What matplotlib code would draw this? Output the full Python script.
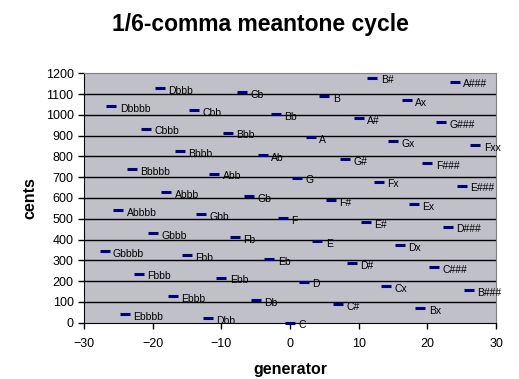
import matplotlib.pyplot as plt

# generator index, pitch in cents, note name
gens = [-27, -26, -25, -24, -23, -22, -21, -20, -19, -18, -17, -16, -15, -14,
        -13, -12, -11, -10, -9, -8, -7, -6, -5, -4, -3, -2, -1, 0,
        1, 2, 3, 4, 5, 6, 7, 8, 9, 10, 11, 12, 13, 14,
        15, 16, 17, 18, 19, 20, 21, 22, 23, 24, 25, 26, 27]
cents = [344.0, 1042.4, 540.7, 39.1, 737.5, 235.9, 934.2, 432.6, 1131.0, 629.3,
         127.7, 826.1, 324.4, 1022.8, 521.2, 19.6, 717.9, 216.3, 914.7, 413.0,
         1111.4, 609.8, 108.2, 806.5, 304.9, 1003.3, 501.6, 0.0,
         698.4, 196.7, 895.1, 393.5, 1091.9, 590.2, 88.6, 787.0, 285.3, 983.7,
         482.1, 1180.5, 678.8, 177.2, 875.6, 373.9, 1072.3, 570.7, 69.0, 767.4,
         265.8, 964.2, 462.5, 1160.9, 659.3, 157.6, 856.0]
names = ['Gbbbb', 'Dbbbb', 'Abbbb', 'Ebbbb', 'Bbbbb', 'Fbbb', 'Cbbb', 'Gbbb',
         'Dbbb', 'Abbb', 'Ebbb', 'Bbbb', 'Fbb', 'Cbb', 'Gbb', 'Dbb', 'Abb',
         'Ebb', 'Bbb', 'Fb', 'Cb', 'Gb', 'Db', 'Ab', 'Eb', 'Bb', 'F', 'C',
         'G', 'D', 'A', 'E', 'B', 'F#', 'C#', 'G#', 'D#', 'A#', 'E#', 'B#',
         'Fx', 'Cx', 'Gx', 'Dx', 'Ax', 'Ex', 'Bx', 'F###', 'C###', 'G###',
         'D###', 'A###', 'E###', 'B###', 'Fxx']

plt.rcParams['font.family'] = ['Liberation Sans', 'DejaVu Sans']

fig = plt.figure(figsize=(5.19, 3.79), dpi=100)
fig.patch.set_facecolor('white')
ax = fig.add_axes([84/519, 1-322.5/379, 412/519, 249/379])
ax.set_facecolor('#c0c0c8')

for y in range(100, 1200, 100):
    ax.axhline(y, color='black', lw=1, zorder=1)

ax.plot(gens, cents, ls='none', marker='_', ms=7, mew=2.2,
        color='#000080', zorder=3, clip_on=False)
for g, c, n in zip(gens, cents, names):
    ax.annotate(n, (g, c), xytext=(6, -2), textcoords='offset points',
                fontsize=7.5, va='center', ha='left', zorder=4,
                annotation_clip=False)

ax.set_xlim(-30, 30)
ax.set_ylim(0, 1200)
ax.set_xticks(range(-30, 31, 10))
ax.set_yticks(range(0, 1201, 100))
ax.tick_params(labelsize=9, length=4, width=1, color='black')
ax.tick_params(axis='x', pad=7)
for s in ['top', 'right']:
    ax.spines[s].set_color('#808080')
for s in ['left', 'bottom']:
    ax.spines[s].set_color('black')

ax.set_xlabel('generator', fontsize=11.5, fontweight='bold', labelpad=9)
ax.set_ylabel('cents', fontsize=11.5, fontweight='bold', labelpad=6)
fig.text(260/519, 1-25/379, '1/6-comma meantone cycle', fontsize=16.5,
         fontweight='bold', ha='center', va='center')

plt.savefig('out.png', dpi=100)
